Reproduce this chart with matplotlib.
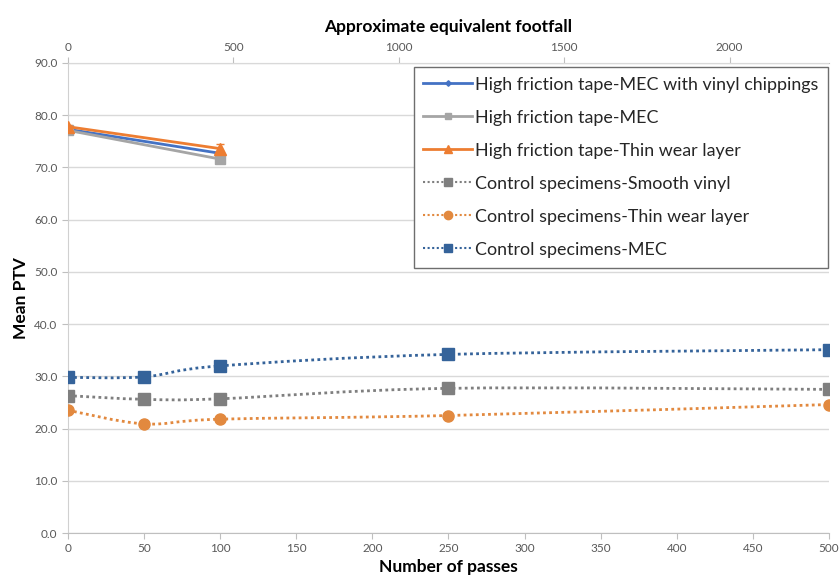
import numpy as np
import matplotlib
matplotlib.use("Agg")
import matplotlib.pyplot as plt
from matplotlib.path import Path
from matplotlib.patches import PathPatch
from matplotlib.lines import Line2D

plt.rcParams['font.family'] = ['Lato', 'DejaVu Sans']

# high friction tape specimens (0 and 100 passes)
hf_passes = [0, 100]
hf_mec_vinyl = [77.3, 72.7]
hf_mec = [77.1, 71.6]
hf_thin = [77.8, 73.6]
hf_thin_err = [0.3, 0.9]

# control specimens
ctrl_passes = [0, 50, 100, 250, 500]
ctrl_smooth = [26.3, 25.6, 25.7, 27.7, 27.5]
ctrl_thin = [23.5, 20.9, 21.8, 22.5, 24.6]
ctrl_mec = [29.8, 29.9, 32.0, 34.2, 35.1]

labels = [
    "High friction tape-MEC with vinyl chippings",
    "High friction tape-MEC",
    "High friction tape-Thin wear layer",
    "Control specimens-Smooth vinyl",
    "Control specimens-Thin wear layer",
    "Control specimens-MEC",
]

footfall_per_pass = 4.6

c_blue = "#4472C4"
c_gray = "#A5A5A5"
c_orange = "#ED7D31"
c_dgray = "#7F7F7F"
c_dorange = "#E2893F"
c_dblue = "#35639A"


def smooth_path(xs, ys):
    # Excel-like smoothed line: Catmull-Rom segments as cubic Beziers
    pts = np.column_stack([xs, ys]).astype(float)
    n = len(pts)
    verts = [pts[0]]
    codes = [Path.MOVETO]
    for i in range(n - 1):
        p0 = pts[i - 1] if i > 0 else pts[i]
        p1 = pts[i]
        p2 = pts[i + 1]
        p3 = pts[i + 2] if i + 2 < n else pts[i + 1]
        c1 = p1 + (p2 - p0) / 6.0
        c2 = p2 - (p3 - p1) / 6.0
        verts += [c1, c2, p2]
        codes += [Path.CURVE4] * 3
    return Path(verts, codes)


fig = plt.figure(figsize=(8.39, 5.81), dpi=100)
ax = fig.add_axes([0.081, 0.0826, 0.907, 0.809])

ax.set_xlim(0, 500)
ax.set_ylim(0, 90)
ax.set_xticks(np.arange(0, 501, 50))
ax.set_yticks(np.arange(0, 91, 10))
ax.set_yticklabels([f"{v:.1f}" for v in np.arange(0, 91, 10)])
ax.grid(axis='y', color='#D9D9D9', linewidth=1)
ax.set_axisbelow(True)

for s in ['right', 'top']:
    ax.spines[s].set_visible(False)
ax.spines['left'].set_color('#D0D0D0')
ax.spines['bottom'].set_color('#BFBFBF')
ax.tick_params(colors='#BFBFBF', labelcolor='#595959', labelsize=8.5, length=4)

handles = []

hf = [
    (hf_mec_vinyl, c_blue, 'D', 4, labels[0]),
    (hf_mec, c_gray, 's', 6.5, labels[1]),
    (hf_thin, c_orange, '^', 8, labels[2]),
]
for vals, col, mk, ms, lab in hf:
    ax.plot(hf_passes, vals, color=col, lw=2, marker=mk, ms=ms, zorder=3)
    handles.append(Line2D([], [], color=col, lw=2, marker=mk, ms=ms * 0.7, label=lab))
ax.errorbar(hf_passes, hf_thin, yerr=hf_thin_err, fmt='none', ecolor=c_orange,
            elinewidth=1, capsize=3, zorder=3)

# control specimens: dotted smoothed curves
ctrl = [
    (ctrl_smooth, c_dgray, 's', 8.5, labels[3]),
    (ctrl_thin, c_dorange, 'o', 8, labels[4]),
    (ctrl_mec, c_dblue, 's', 8.5, labels[5]),
]
for vals, col, mk, ms, lab in ctrl:
    patch = PathPatch(smooth_path(ctrl_passes, vals), facecolor='none', edgecolor=col,
                      lw=2, linestyle=(0, (1, 1.2)), transform=ax.transData, zorder=2)
    ax.add_patch(patch)
    ax.plot(ctrl_passes, vals, linestyle='none', marker=mk, ms=ms, color=col, zorder=3)
    handles.append(Line2D([], [], color=col, lw=1.5, linestyle=(0, (1, 1.2)),
                          marker=mk, ms=ms * 0.75, label=lab))

ax.set_xlabel("Number of passes", fontsize=12.5, fontweight='bold', labelpad=3)
ax.set_ylabel("Mean PTV", fontsize=12.5, fontweight='bold', labelpad=4)

sec = ax.secondary_xaxis('top', functions=(lambda p: p * footfall_per_pass,
                                           lambda f: f / footfall_per_pass))
sec.set_xticks(np.arange(0, 2001, 500))
sec.spines['top'].set_color('#BFBFBF')
sec.tick_params(colors='#BFBFBF', labelcolor='#595959', labelsize=8.5, length=4)
sec.set_xlabel("Approximate equivalent footfall", fontsize=12.5, fontweight='bold', labelpad=7)

leg = ax.legend(handles=handles, loc='upper right', bbox_to_anchor=(0.9985, 0.992),
                fontsize=12.9, labelspacing=0.95, handlelength=2.7, handletextpad=0.15,
                borderpad=0.55, borderaxespad=0, fancybox=False, framealpha=1,
                edgecolor='#6E6E6E')
leg.get_frame().set_linewidth(1)
for t in leg.get_texts():
    t.set_color('#262626')

fig.savefig("out.png", dpi=100)
